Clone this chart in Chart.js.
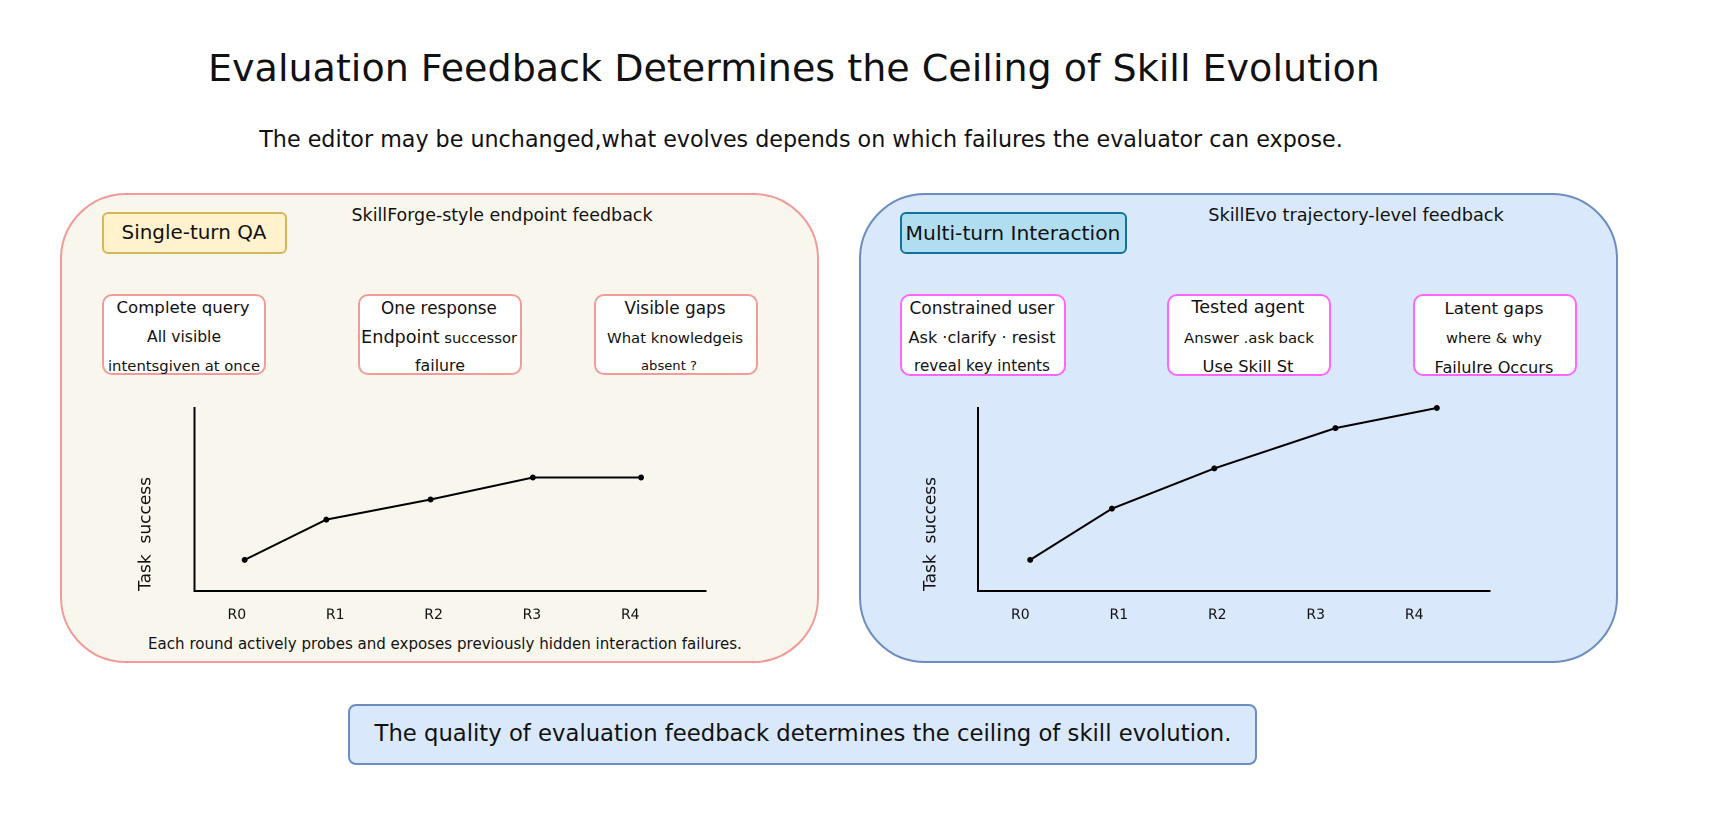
<!DOCTYPE html>
<html>
<head>
<meta charset="utf-8">
<script src="https://cdn.jsdelivr.net/npm/chart.js@4.4.1/dist/chart.umd.min.js"></script>
<style>
  html, body { margin: 0; padding: 0; background: #ffffff; }
  #page { position: relative; width: 1717px; height: 816px; overflow: hidden; font-family: "DejaVu Sans", sans-serif; color: #111; }
  .abs { position: absolute; box-sizing: border-box; }
  .t { position: absolute; white-space: nowrap; line-height: 1; transform: translate(-50%, -50%); }
  .panel { border-width: 2px; border-style: solid; border-radius: 66px; }
  .card { background: #ffffff; border: 2px solid; border-radius: 10px; }
  .tag { border: 2px solid; border-radius: 6px; }
  canvas { position: absolute; }
</style>
</head>
<body>
<div id="page">
  <!-- panels -->
  <div class="abs panel" style="left:60px;top:193px;width:759px;height:470px;background:#f9f7ed;border-color:#f19c99;"></div>
  <div class="abs panel" style="left:859px;top:193px;width:759px;height:470px;background:#dae8fc;border-color:#6c8ebf;"></div>

  <!-- headings -->
  <div class="t" data-w="1172" style="left:794px;top:68px;">Evaluation Feedback Determines the Ceiling of Skill Evolution</div>
  <div class="t" data-w="1084" style="left:801px;top:139px;">The editor may be unchanged,what evolves depends on which failures the evaluator can expose.</div>

  <!-- left panel content -->
  <div class="abs tag" style="left:102px;top:212px;width:185px;height:42px;background:#fff2cc;border-color:#d6b656;"></div>
  <div class="t" data-w="145" style="left:194px;top:233px;">Single-turn QA</div>
  <div class="t" data-w="301" style="left:502px;top:216px;">SkillForge-style endpoint feedback</div>

  <div class="abs card" style="left:102px;top:294px;width:164px;height:81px;border-color:#f19c99;"></div>
  <div class="abs card" style="left:358px;top:294px;width:164px;height:81px;border-color:#f19c99;"></div>
  <div class="abs card" style="left:594px;top:294px;width:164px;height:81px;border-color:#f19c99;"></div>

  <div class="t" data-w="133" style="left:183px;top:308px;">Complete query</div>
  <div class="t" data-w="74" style="left:184px;top:338px;">All visible</div>
  <div class="t" data-w="152" style="left:184px;top:366px;">intentsgiven at once</div>

  <div class="t" data-w="116" style="left:439px;top:308px;">One response</div>
  <div class="t" data-w="156" style="left:439px;top:338px;"><span style="font-size:1.2em">Endpoint</span> successor</div>
  <div class="t" data-w="50" style="left:440px;top:366px;">failure</div>

  <div class="t" data-w="101" style="left:675px;top:308px;">Visible gaps</div>
  <div class="t" data-w="136" style="left:675px;top:338px;">What knowledgeis</div>
  <div class="t" data-w="56" style="left:669px;top:366px;">absent ?</div>

  <div class="t" data-w="594" style="left:445px;top:645px;">Each round actively probes and exposes previously hidden interaction failures.</div>

  <!-- right panel content -->
  <div class="abs tag" style="left:900px;top:212px;width:227px;height:42px;background:#b1ddf0;border-color:#10739e;"></div>
  <div class="t" data-w="215" style="left:1013px;top:233px;">Multi-turn Interaction</div>
  <div class="t" data-w="296" style="left:1356px;top:216px;">SkillEvo trajectory-level feedback</div>

  <div class="abs card" style="left:900px;top:294px;width:166px;height:82px;border-color:#ff66ff;"></div>
  <div class="abs card" style="left:1167px;top:294px;width:164px;height:82px;border-color:#ff66ff;"></div>
  <div class="abs card" style="left:1413px;top:294px;width:164px;height:82px;border-color:#ff66ff;"></div>

  <div class="t" data-w="145" style="left:982px;top:308px;">Constrained user</div>
  <div class="t" data-w="147" style="left:982px;top:338px;">Ask ·clarify · resist</div>
  <div class="t" data-w="136" style="left:982px;top:367px;">reveal key intents</div>

  <div class="t" data-w="113" style="left:1248px;top:308px;">Tested agent</div>
  <div class="t" data-w="130" style="left:1249px;top:338px;">Answer .ask back</div>
  <div class="t" data-w="91" style="left:1248px;top:367px;">Use Skill St</div>

  <div class="t" data-w="99" style="left:1494px;top:308px;">Latent gaps</div>
  <div class="t" data-w="96" style="left:1494px;top:338px;">where &amp; why</div>
  <div class="t" data-w="119" style="left:1494px;top:368px;">FailuIre Occurs</div>

  <!-- bottom conclusion -->
  <div class="abs tag" style="left:348px;top:704px;width:909px;height:61px;background:#dae8fc;border-color:#6c8ebf;border-radius:8px;"></div>
  <div class="t" data-w="857" style="left:803px;top:733px;">The quality of evaluation feedback determines the ceiling of skill evolution.</div>

  <canvas id="leftChart" style="left:120px;top:398px;width:600px;height:233px;"></canvas>
  <canvas id="rightChart" style="left:905px;top:398px;width:599px;height:233px;"></canvas>
</div>

<script>
// ---- data ----
const rounds = ['R0', 'R1', 'R2', 'R3', 'R4'];
const singleTurnRound = [0.08, 0.91, 1.97, 3.01, 4.11];
const singleTurnSuccess = [0.17, 0.39, 0.50, 0.62, 0.62];
const multiTurnRound = [0.10, 0.93, 1.97, 3.20, 4.23];
const multiTurnSuccess = [0.17, 0.45, 0.67, 0.89, 1.00];
const yAxisTitle = 'Task  success ';

// ---- fit text widths ----
document.querySelectorAll('[data-w]').forEach(el => {
  const target = +el.dataset.w;
  el.style.fontSize = '100px';
  const w = el.offsetWidth;
  el.style.fontSize = (100 * target / w).toFixed(2) + 'px';
});

Chart.defaults.font.family = '"DejaVu Sans", sans-serif';
Chart.defaults.color = '#111';

function makeChart(id, xs, ys, yAxisWidth) {
  const pts = xs.map((x, i) => ({ x: x, y: ys[i] }));
  return new Chart(document.getElementById(id), {
    type: 'line',
    data: {
      datasets: [{
        data: pts,
        borderColor: '#000',
        borderWidth: 2,
        pointRadius: 2,
        pointBackgroundColor: '#000',
        pointBorderColor: '#000',
        tension: 0,
        clip: false
      }]
    },
    options: {
      responsive: false,
      animation: false,
      devicePixelRatio: 2,
      layout: { padding: { top: 10, right: 14, bottom: 0, left: 0 } },
      plugins: { legend: { display: false }, tooltip: { enabled: false } },
      scales: {
        x: {
          type: 'linear',
          min: -0.43,
          max: 4.77,
          grid: { display: false, drawTicks: false },
          border: { display: true, color: '#000', width: 2 },
          afterBuildTicks: axis => { axis.ticks = rounds.map((_, i) => ({ value: i })); },
          afterFit: axis => { axis.height = 40; },
          ticks: {
            padding: 16,
            autoSkip: false,
            maxRotation: 0,
            font: { size: 14 },
            callback: (v) => rounds[v] !== undefined ? rounds[v] : ''
          }
        },
        y: {
          min: 0,
          max: 1,
          grid: { display: false, drawTicks: false },
          border: { display: true, color: '#000', width: 2 },
          ticks: { display: false },
          afterFit: axis => { axis.width = yAxisWidth; },
          title: {
            display: true,
            text: yAxisTitle,
            align: 'start',
            font: { size: 17 },
            padding: { top: 16, bottom: 0 }
          }
        }
      }
    }
  });
}

makeChart('leftChart', singleTurnRound, singleTurnSuccess, 74.5);
makeChart('rightChart', multiTurnRound, multiTurnSuccess, 73);
</script>
</body>
</html>
